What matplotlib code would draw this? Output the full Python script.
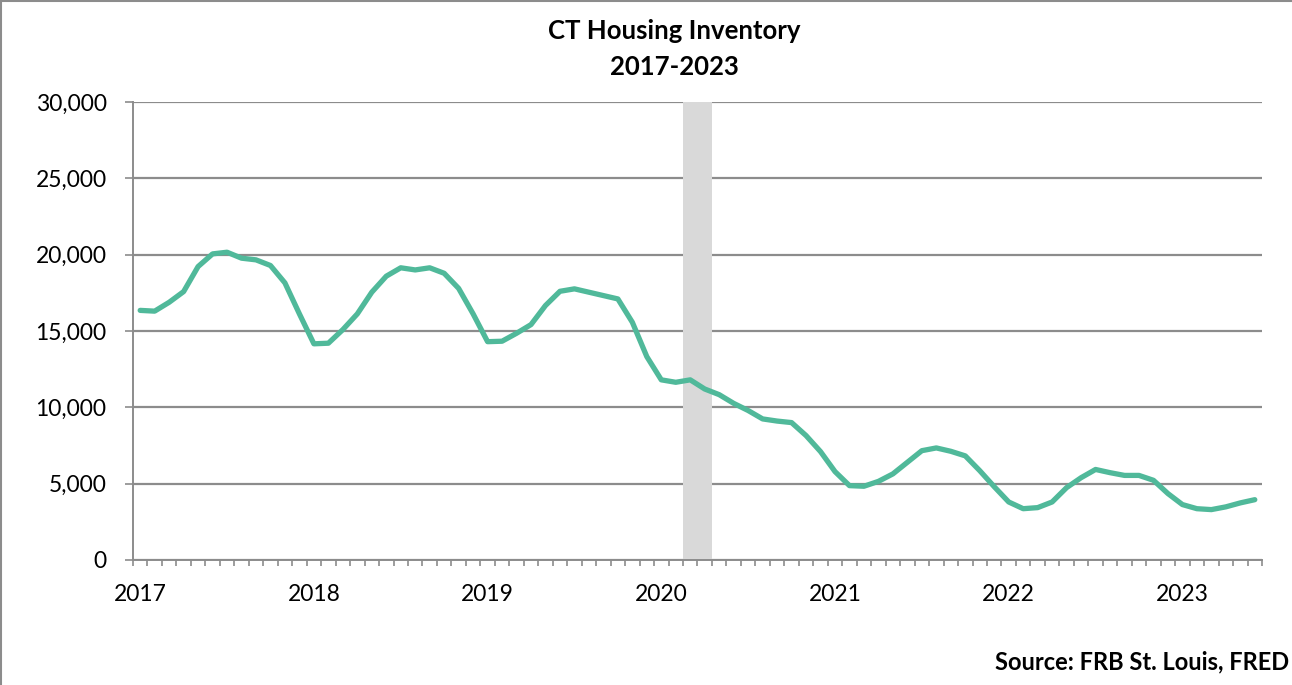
import numpy as np
import matplotlib
matplotlib.use("Agg")
import matplotlib.pyplot as plt
from matplotlib.lines import Line2D
from matplotlib.ticker import FuncFormatter

# Monthly CT housing inventory, Jan 2017 .. Jun 2023
inventory = [
    16350, 16300, 16880, 17580, 19220, 20050, 20160, 19770, 19660, 19290, 18150, 16120,  # 2017
    14160, 14200, 15090, 16120, 17540, 18590, 19140, 19000, 19140, 18780, 17790, 16120,  # 2018
    14300, 14330, 14850, 15420, 16670, 17600, 17760, 17540, 17320, 17100, 15570, 13320,  # 2019
    11800, 11640, 11800, 11200, 10830, 10260, 9790, 9240, 9100, 9000, 8150, 7100,        # 2020
    5790, 4870, 4830, 5150, 5640, 6400, 7160, 7340, 7120, 6820, 5850, 4800,              # 2021
    3800, 3360, 3430, 3800, 4740, 5390, 5930, 5720, 5540, 5540, 5220, 4350,              # 2022
    3630, 3360, 3300, 3480, 3740, 3950,                                                   # 2023
]
year_labels = ["2017", "2018", "2019", "2020", "2021", "2022", "2023"]
recession_months = [38, 39]   # Mar-Apr 2020 (month index from Jan 2017)

months = np.arange(len(inventory))

fig = plt.figure(figsize=(12.92, 6.85), dpi=100)
plt.rcParams["font.family"] = ["Lato", "DejaVu Sans"]
ax = fig.add_axes([0.1029, 0.1825, 0.8739, 0.6686])

grey = "#8c8c8c"

ax.axvspan(recession_months[0] - 0.5, recession_months[-1] + 0.5,
           color="#d9d9d9", lw=0, zorder=2)
ax.plot(months, inventory, color="#50b99a", lw=3.8,
        solid_joinstyle="round", solid_capstyle="round", zorder=3)

ax.set_xlim(-0.5, len(inventory) - 0.5)
ax.set_ylim(0, 30000)
ax.set_yticks(np.arange(0, 30001, 5000))
ax.yaxis.set_major_formatter(FuncFormatter(lambda v, _: f"{int(v):,}"))
ax.yaxis.grid(True, color=grey, lw=1.6, zorder=1)
ax.set_axisbelow(True)

ax.set_xticks(np.arange(0, len(inventory), 12))
ax.set_xticklabels(year_labels)
ax.set_xticks(np.arange(-0.5, len(inventory), 1), minor=True)
ax.tick_params(axis="x", which="major", length=0, pad=17, labelsize=16.5)
ax.tick_params(axis="x", which="minor", length=4.5, width=1.2, color=grey)
ax.tick_params(axis="y", length=6, width=1.2, color=grey, pad=13, labelsize=16.5)

for s in ["top", "right"]:
    ax.spines[s].set_visible(False)
for s in ["left", "bottom"]:
    ax.spines[s].set_color(grey)
    ax.spines[s].set_linewidth(1.4)

fig.text(0.522, 0.955, "CT Housing Inventory", ha="center", va="center",
         fontsize=18.5, fontweight="bold")
fig.text(0.522, 0.902, "2017-2023", ha="center", va="center",
         fontsize=18.5, fontweight="bold")
fig.text(0.998, 0.034, "Source: FRB St. Louis, FRED", ha="right", va="center",
         fontsize=17, fontweight="bold")

# thin grey frame (top and left edges visible in the original)
fig.add_artist(Line2D([0, 1], [0.999, 0.999], color=grey, lw=1.5))
fig.add_artist(Line2D([0.0008, 0.0008], [0, 1], color=grey, lw=1.5))

fig.savefig("out.png", dpi=100)
